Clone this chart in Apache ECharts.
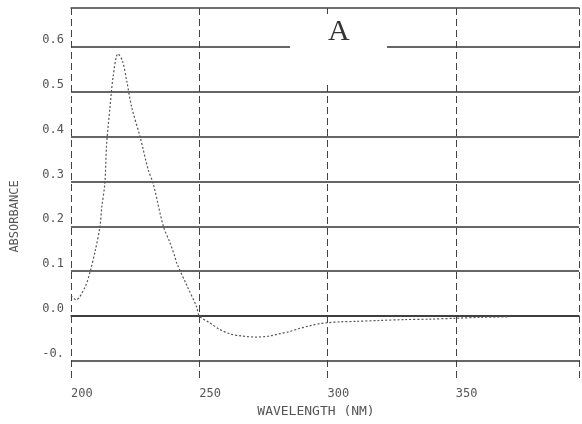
<!DOCTYPE html>
<html>
<head>
<meta charset="utf-8">
<script src="https://cdn.jsdelivr.net/npm/echarts@6/dist/echarts.min.js"></script>
<style>
  html, body { margin: 0; padding: 0; background: #fff; }
  #main { width: 582px; height: 424px; }
</style>
</head>
<body>
<div id="main"></div>
<script>
// wavelength (nm) and absorbance
const wavelengths = [200, 202, 205.5, 207.5, 209.5, 211.3, 212, 213.2, 213.9, 215.2, 216.4, 218.3, 220, 221.7, 223.6, 226.9, 230.1, 232, 236, 238.6, 240.5, 241.2, 245, 249, 250,
  254, 258, 262, 267, 272, 277, 281, 285, 289, 293, 297, 300, 305, 311, 320, 330, 340, 350, 360, 370];
const absorbance = [0.045, 0.036, 0.065, 0.10, 0.147, 0.20, 0.243, 0.296, 0.385, 0.466, 0.533, 0.585, 0.57, 0.525, 0.467, 0.40, 0.326, 0.296, 0.20, 0.163, 0.132, 0.118, 0.07, 0.02, 0.0,
  -0.015, -0.03, -0.04, -0.045, -0.047, -0.045, -0.04, -0.035, -0.028, -0.022, -0.017, -0.015, -0.013, -0.012, -0.01, -0.008, -0.007, -0.005, -0.003, -0.002];
const yTicks = [-0.1, 0, 0.1, 0.2, 0.3, 0.4, 0.5, 0.6];
const yTickLabels = ['-0.', '0.0', '0.1', '0.2', '0.3', '0.4', '0.5', '0.6'];
const xTickLabels = ['200', '250', '300', '350'];

const plotFont = 'DejaVu Sans Mono';
let myChart = echarts.init(document.getElementById('main'));
let option = {
  backgroundColor: '#fff',
  animation: false,
  grid: { left: 71, right: 0, top: 8, bottom: 43 },
  xAxis: [
    {
      type: 'value',
      min: 200,
      max: 398,
      interval: 50,
      name: 'WAVELENGTH (NM)',
      nameLocation: 'middle',
      nameGap: 24,
      nameTextStyle: { fontFamily: plotFont, fontSize: 13, color: '#555', padding: [0, 18, 0, 0] },
      axisLine: { show: true, lineStyle: { color: '#333', width: 1.5 } },
      axisTick: { show: false },
      axisLabel: {
        fontFamily: plotFont, fontSize: 12, color: '#555', margin: 7, align: 'left',
        formatter: v => xTickLabels[(v - 200) / 50] || ''
      },
      splitLine: { show: true, lineStyle: { color: '#444', width: 1, type: [7, 4] } }
    },
    {
      type: 'value',
      position: 'top',
      min: 200,
      max: 398,
      axisLine: { show: true, onZero: false, lineStyle: { color: '#444', width: 1.5 } },
      axisTick: { show: false },
      axisLabel: { show: false },
      splitLine: { show: false }
    }
  ],
  yAxis: {
    type: 'value',
    min: -0.145,
    max: 0.687,
    name: 'ABSORBANCE',
    nameLocation: 'middle',
    nameGap: 50,
    nameTextStyle: { fontFamily: plotFont, fontSize: 12, color: '#555', padding: [0, 44, 0, 0] },
    axisLine: { show: false },
    axisTick: { show: false, customValues: yTicks },
    axisLabel: {
      customValues: yTicks,
      fontFamily: plotFont, fontSize: 12, color: '#555', margin: 7,
      verticalAlign: 'bottom',
      padding: [0, 0, 1, 0],
      formatter: v => yTickLabels[yTicks.findIndex(t => Math.abs(t - v) < 1e-6)] || ''
    },
    splitLine: { show: true, lineStyle: { color: '#333', width: 1.5 } }
  },
  graphic: [
    { type: 'rect', shape: { x: 290, y: 14, width: 97, height: 68 }, style: { fill: '#fff' }, z: 10 },
    { type: 'text', left: 328, top: 17, style: { text: 'A', font: '30px "Liberation Serif"', fill: '#333' }, z: 11 }
  ],
  series: [
    {
      type: 'line',
      data: wavelengths.map((w, i) => [w, absorbance[i]]),
      showSymbol: false,
      smooth: 0.3,
      lineStyle: { color: '#555', width: 1.2, type: [2, 2] }
    }
  ]
};
myChart.setOption(option);
</script>
</body>
</html>
